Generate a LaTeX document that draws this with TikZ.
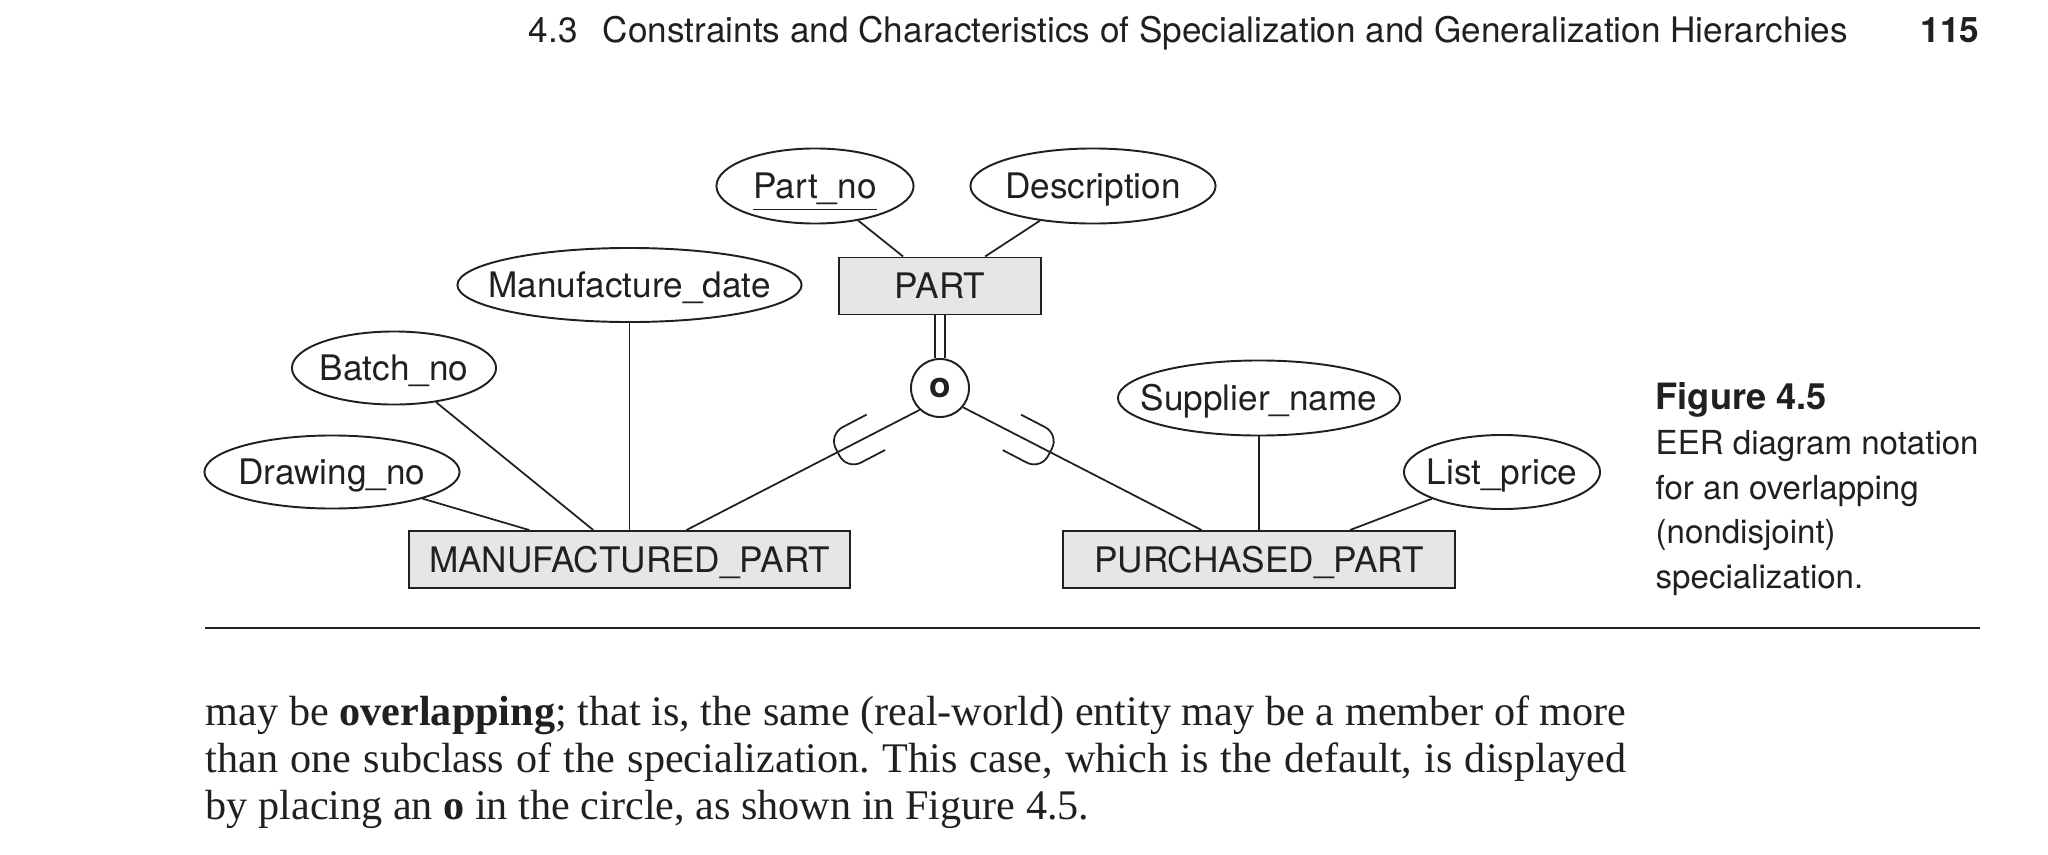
\documentclass[tikz,border=0pt]{standalone}
\usepackage{fontspec}
\setmainfont{Liberation Serif}
\setsansfont{TeX Gyre Heros}
\usetikzlibrary{shapes.geometric,calc}
\definecolor{ink}{HTML}{231F20}
\definecolor{boxfill}{HTML}{E6E6E6}
\begin{document}
\begin{tikzpicture}[x=0.01cm,y=-0.01cm,
  lbl/.style={font=\sffamily\fontsize{10}{12}\selectfont, text=ink, text height=0.25cm, text depth=0pt, inner sep=0pt},
  ent/.style={lbl, rectangle, draw=ink, fill=boxfill, line width=0.55pt, minimum height=0.57cm},
  att/.style={lbl, ellipse, draw=ink, line width=0.55pt, minimum height=0.75cm, inner xsep=-3cm, inner ysep=-1cm},
  conn/.style={draw=ink, line width=0.5pt},
  caption/.style={font=\sffamily\fontsize{9.4}{12}\selectfont, text=ink, anchor=base west, inner sep=0pt},
  body/.style={font=\rmfamily\fontsize{12}{14}\selectfont\frenchspacing, text=ink, anchor=base west, inner sep=0pt},
]
\useasboundingbox (0,0) rectangle (2048,854);

% header
\node[font=\sffamily\fontsize{10}{12}\selectfont, text=ink, anchor=base west, inner sep=0pt] (hdr) at (528,42)
  {4.3\hspace{0.72em}Constraints and Characteristics of Specialization and Generalization Hierarchies};
\node[font=\sffamily\bfseries\fontsize{10}{12}\selectfont, text=ink, anchor=base east, inner sep=0pt] (pg) at (1980,42) {115};

% entities
\node[ent, minimum width=2.02cm] (part) at (940,286) {PART};
\node[ent, minimum width=4.41cm] (mp) at (629.5,559.5) {MANUFACTURED\_PART};
\node[ent, minimum width=3.92cm] (pp) at (1259,559.5) {PURCHASED\_PART};

% attributes
\node[att, minimum width=1.97cm] (pn) at (815,186) {\underline{Part\_no}};
\node[att, minimum width=2.45cm] (desc) at (1093,186) {Description};
\node[att, minimum width=3.44cm, minimum height=0.74cm] (mdate) at (629.5,285) {Manufacture\_date};
\node[att, minimum width=2.04cm, minimum height=0.73cm] (batch) at (394,368) {Batch\_no};
\node[att, minimum width=2.55cm, minimum height=0.73cm] (drawno) at (332,472) {Drawing\_no};
\node[att, minimum width=2.82cm] (sup) at (1259,398) {Supplier\_name};
\node[att, minimum width=1.96cm, minimum height=0.74cm] (lp) at (1502,472) {List\_price};

% specialization circle
\node[circle, draw=ink, line width=0.55pt, minimum size=0.58cm, inner sep=0pt,
      font=\sffamily\bfseries\fontsize{10}{12}\selectfont, text=ink] (c) at (940,388) {o};

% connectors
\draw[conn] (pn) -- (part);
\draw[conn] (desc) -- (part);
\draw[conn] (mdate) -- (mp);
\draw[conn] (batch) -- (mp);
\draw[conn] (drawno) -- (mp);
\draw[conn] (sup) -- (pp);
\draw[conn] (lp) -- ($(pp.north)+(91,0)$);
\draw[conn, double=white, double distance=2.2pt] (part.south) -- (c.north);
\draw[conn] (c.227) -- ($(mp.north)+(57,0)$);
\draw[conn] (c.320) -- ($(pp.north)+(-57.5,0)$);

% subset symbols
\draw[conn, rounded corners=4.5pt] (866.6,414.6) -- (828.5,434.5) -- (846.9,469.9) -- (885.1,450.0);
\draw[conn, rounded corners=4.5pt] (1021.1,414.7) -- (1059.2,434.5) -- (1040.8,469.9) -- (1002.7,450.1);

% caption
\node[caption, font=\sffamily\bfseries\fontsize{10.3}{12}\selectfont] (cap0) at (1655,409) {Figure 4.5};
\node[caption] (cap1) at (1655,454) {EER diagram notation};
\node[caption] (cap2) at (1655,499) {for an overlapping};
\node[caption] (cap3) at (1655,543) {(nondisjoint)};
\node[caption] (cap4) at (1655,588) {specialization.};

% rule
\draw[draw=ink, line width=0.75pt] (205,628) -- (1980,628);

% body text
\node[body] (b1) at (205,725) {\makebox[14.2cm][s]{may be \textbf{overlapping}; that is, the same (real-world) entity may be a member of more}};
\node[body] (b2) at (205,772) {\makebox[14.2cm][s]{than one subclass of the specialization. This case, which is the default, is displayed}};
\node[body] (b3) at (205,819) {by placing an \textbf{o} in the circle, as shown in Figure 4.5.};
\end{tikzpicture}
\end{document}
